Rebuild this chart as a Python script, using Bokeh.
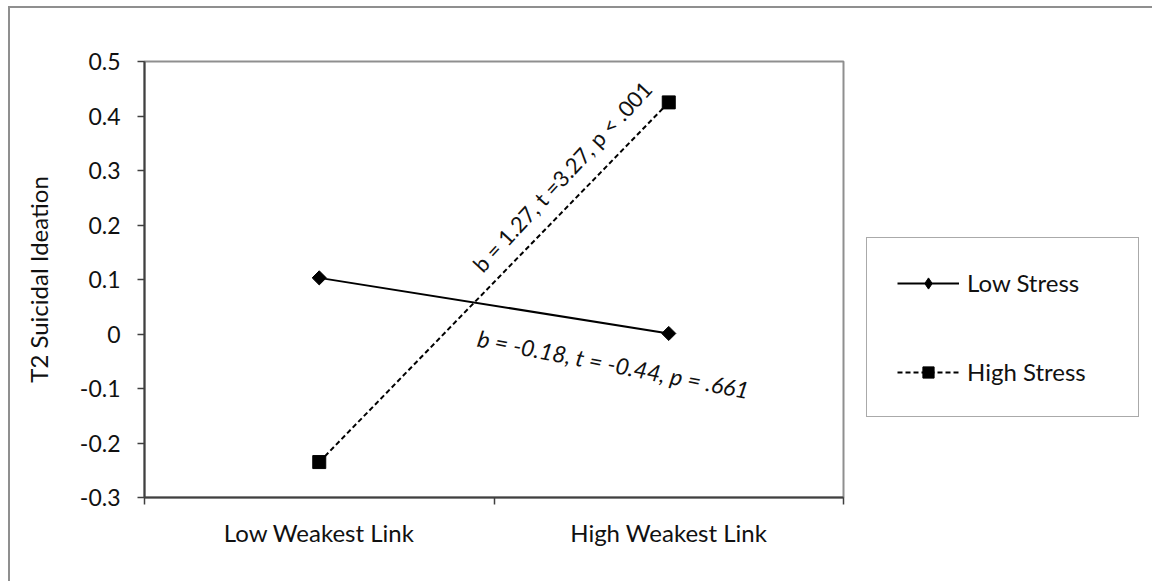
import math
from bokeh.plotting import figure
from bokeh.models import (Range1d, FixedTicker, LinearAxis, Legend,
                          LegendItem, Label, ColumnDataSource)
from bokeh.embed import file_html
from bokeh.resources import INLINE

# ---------------- data ----------------
categories = ["Low Weakest Link", "High Weakest Link"]
series_names = ["Low Stress", "High Stress"]
low_stress = [0.103, 0.001]
high_stress = [-0.235, 0.425]
y_ticks = [-0.3, -0.2, -0.1, 0, 0.1, 0.2, 0.3, 0.4, 0.5]
y_tick_labels = ["-0.3", "-0.2", "-0.1", "0", "0.1", "0.2", "0.3", "0.4", "0.5"]
y_title = "T2 Suicidal Ideation"
annotation_high = "b = 1.27, t =3.27, p < .001"
annotation_low = "b = -0.18, t = -0.44, p = .661"

FONT = "Lato"
TXT = "#111111"

n = len(categories)
centers = [i + 0.5 for i in range(n)]   # category slot centres
src = ColumnDataSource(dict(x=centers, cat=categories, low=low_stress, high=high_stress))

p = figure(x_range=Range1d(0, n), y_range=Range1d(-0.3, 0.5),
           frame_width=699, frame_height=436,
           min_border_left=134, min_border_right=309,
           min_border_top=53, min_border_bottom=84,
           x_axis_location=None, y_axis_location=None,
           output_backend="svg", toolbar_location=None)
p.grid.visible = False
p.outline_line_color = "#8f8f8f"
p.outline_line_width = 2
p.background_fill_color = "white"
p.border_fill_color = "white"
p.styles = {"border-left": "2px solid #8f8f8f", "border-top": "2px solid #8f8f8f",
            "margin-left": "8px", "margin-top": "6px"}

# y axis
yaxis = LinearAxis(ticker=FixedTicker(ticks=y_ticks),
                   major_label_overrides=dict(zip(y_ticks, y_tick_labels)),
                   axis_label=y_title)
yaxis.axis_line_color = "#404040"
yaxis.axis_line_width = 2
yaxis.major_tick_line_color = "#404040"
yaxis.major_tick_line_width = 1.5
yaxis.major_tick_in = 0
yaxis.major_tick_out = 7
yaxis.minor_tick_line_color = None
yaxis.major_label_standoff = 17
yaxis.major_label_text_font = FONT
yaxis.major_label_text_font_size = "23px"
yaxis.major_label_text_color = TXT
yaxis.axis_label_text_font = FONT
yaxis.axis_label_text_font_size = "24px"
yaxis.axis_label_text_font_style = "normal"
yaxis.axis_label_text_color = TXT
yaxis.axis_label_standoff = 24
p.add_layout(yaxis, "left")

# x axis (category labels at centres, tick marks between categories)
xaxis = LinearAxis(ticker=FixedTicker(ticks=centers, minor_ticks=list(range(n + 1))),
                   major_label_overrides=dict(zip(centers, categories)))
xaxis.axis_line_color = "#404040"
xaxis.axis_line_width = 2
xaxis.major_tick_line_color = None
xaxis.major_tick_in = 0
xaxis.major_tick_out = 0
xaxis.minor_tick_line_color = "#404040"
xaxis.minor_tick_line_width = 1.5
xaxis.minor_tick_in = 0
xaxis.minor_tick_out = 7
xaxis.major_label_standoff = 13
xaxis.major_label_text_font = FONT
xaxis.major_label_text_font_size = "24px"
xaxis.major_label_text_color = TXT
p.add_layout(xaxis, "below")

# series
l1 = p.line(x="x", y="low", source=src, line_color="black", line_width=2)
# small diamond (hidden under the rotated square) so the legend shows a diamond
d1 = p.scatter(x="x", y="low", source=src, marker="diamond", size=6,
               fill_color="black", line_color="black")
m1 = p.scatter(x="x", y="low", source=src, marker="square", angle=math.pi / 4,
               size=10, fill_color="black", line_color="black")
l2 = p.line(x="x", y="high", source=src, line_color="black", line_width=2,
            line_dash="5 3")
m2 = p.scatter(x="x", y="high", source=src, marker="square", size=13,
               fill_color="black", line_color="black")

legend = Legend(items=[LegendItem(label=series_names[0], renderers=[l1, d1]),
                       LegendItem(label=series_names[1], renderers=[l2, m2])],
                location=(23, 80), orientation="vertical",
                padding=30, spacing=60, margin=0,
                glyph_width=62, glyph_height=28, label_height=28,
                label_standoff=8, label_width=141,
                border_line_color="#555555", border_line_width=1.5,
                background_fill_color="white", background_fill_alpha=1)
legend.label_text_font = FONT
legend.label_text_font_size = "24px"
legend.label_text_color = TXT
p.add_layout(legend, "right")

# regression annotations
p.add_layout(Label(x=1.195, y=0.289, text=annotation_high, angle=47, angle_units="deg",
                   text_align="center", text_baseline="middle",
                   text_font=FONT, text_font_size="22px", text_color=TXT))
p.add_layout(Label(x=1.342, y=-0.055, text=annotation_low, angle=-11, angle_units="deg",
                   text_align="center", text_baseline="middle",
                   text_font=FONT, text_font_size="23px", text_color=TXT,
                   text_font_style="italic"))

open("out.html", "w").write(file_html(p, INLINE))
